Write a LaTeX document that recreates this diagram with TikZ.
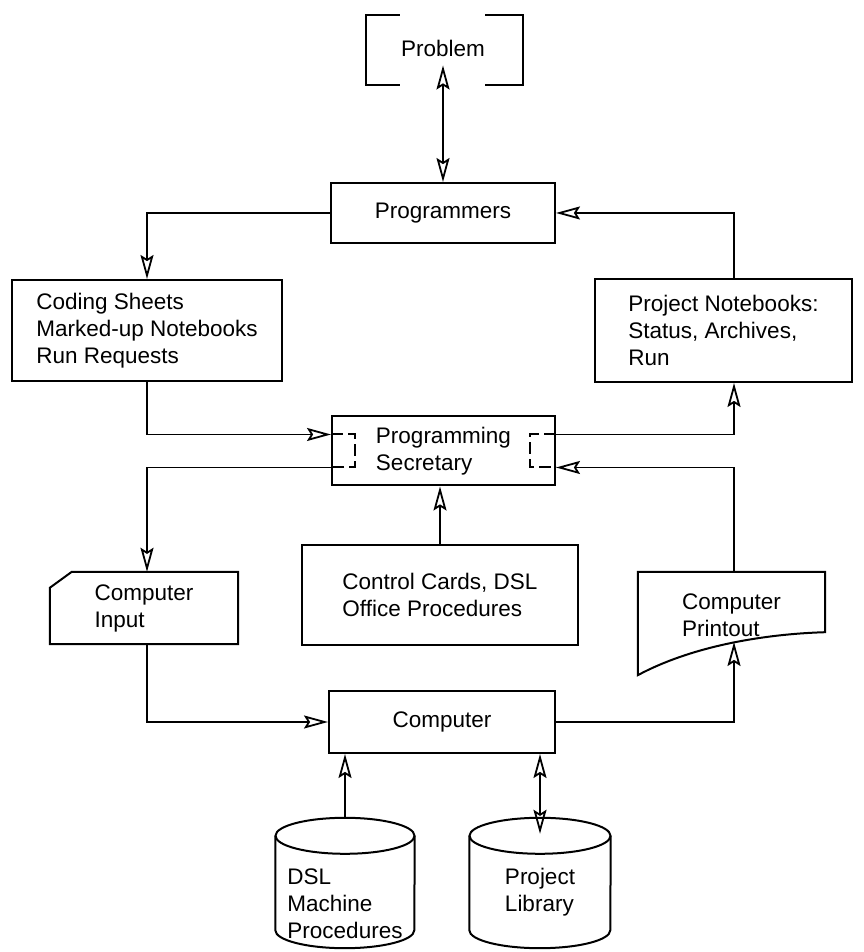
\documentclass[tikz,border=0pt]{standalone}
\usepackage{fontspec}
\setmainfont{Liberation Sans}
\usetikzlibrary{arrows.meta}
\tikzset{
  box/.style={
    draw, line width=2pt, inner sep=0pt, align=left
  },
  plain/.style={inner sep=0pt, align=left},
  outline/.style={line width=2pt},
  arr/.style={
    -{Stealth[open, length=24pt, width=13pt, inset=4pt]},
    line width=1.8pt
  },
  biarr/.style={
    {Stealth[open, length=24pt, width=13pt, inset=4pt]}-{Stealth[open, length=24pt, width=13pt, inset=4pt]},
    line width=1.8pt
  },
  bracket/.style={line width=2pt, dash pattern=on 12pt off 5pt}
}

\begin{document}
\begin{tikzpicture}[
      x=1pt, y=1pt,
      every node/.style={font=\fontsize{22.5pt}{27pt}\selectfont}
  ]
    \fill[white] (0,0) rectangle (863,952);
    \useasboundingbox (0,0) rectangle (863,952);

    %% ── Top: Problem and Programmers ────────────────────────────────
    \node[plain] (prob) at (443,904) {Problem};
    \node[plain, minimum width=157pt, minimum height=70pt] (probframe) at (444.5,902) {};
    \draw[outline] ([xshift=34pt]probframe.north west) -- (probframe.north west)
                   -- (probframe.south west) -- ++(34pt,0);
    \draw[outline] ([xshift=-38pt]probframe.north east) -- (probframe.north east)
                   -- (probframe.south east) -- ++(-38pt,0);

    \node[box, minimum width=224pt, minimum height=60pt] (prog) at (443,739) {Programmers};

    %% ── Row 2: paperwork in and out ─────────────────────────────────
    \node[box, minimum width=270pt, minimum height=101pt] (coding) at (147,621.5)
      {Coding Sheets\\Marked-up Notebooks\\Run Requests};
    \node[box, minimum width=257pt, minimum height=103pt] (notes) at (723.5,621.5)
      {Project Notebooks:\\Status, Archives,\\Run};

    %% ── Row 3: Programming Secretary ────────────────────────────────
    \node[box, minimum width=223pt, minimum height=69pt] (sec) at (443.5,501)
      {Programming\\Secretary};
    \draw[bracket] ([yshift=16.5pt]sec.west) -- ++(24pt,0) -- ++(0,-33pt) -- ++(-24pt,0);
    \draw[bracket] ([yshift=16.5pt]sec.east) -- ++(-26pt,0) -- ++(0,-33pt) -- ++(26pt,0);

    %% ── Row 4: input, control cards, printout ───────────────────────
    \node[box, minimum width=276pt, minimum height=100pt] (cards) at (440,357)
      {Control Cards, DSL\\Office Procedures};

    \node[plain, minimum width=188pt, minimum height=72pt] (input) at (144,344)
      {Computer\\Input};
    \draw[outline] ([yshift=-16pt]input.north west) -- ([xshift=22pt]input.north west)
                   -- (input.north east) -- (input.south east) -- (input.south west) -- cycle;

    \node[plain, minimum width=187pt, minimum height=86pt] (print) at (731.5,337)
      {Computer\\Printout};
    \draw[outline] (print.north west) -- (print.north east) -- ([yshift=26pt]print.south east)
                   .. controls ([xshift=-65pt,yshift=24pt]print.south east)
                   and ([xshift=52pt,yshift=11pt]print.south west)
                   .. ([yshift=-17pt]print.south west) -- cycle;

    %% ── Row 5: Computer ─────────────────────────────────────────────
    \node[box, minimum width=226pt, minimum height=62pt] (comp) at (442,230) {Computer};

    %% ── Bottom: the two disk files ──────────────────────────────────
    \node[plain, minimum width=139pt, minimum height=94pt] (dsl) at (345,69) {};
    \draw[outline] (dsl.north west) -- (dsl.south west)
                   arc[start angle=180, end angle=360, x radius=69.5pt, y radius=18pt]
                   -- (dsl.north east);
    \draw[outline] (dsl.north) ellipse[x radius=69.5pt, y radius=18pt];
    \node[plain] (dsltext) at (345,48.5) {DSL\\Machine\\Procedures};

    \node[plain, minimum width=141pt, minimum height=94pt] (lib) at (540,69) {};
    \draw[outline] (lib.north west) -- (lib.south west)
                   arc[start angle=180, end angle=360, x radius=70.5pt, y radius=18pt]
                   -- (lib.north east);
    \draw[outline] (lib.north) ellipse[x radius=70.5pt, y radius=18pt];
    \node[plain] (libtext) at (540,59.5) {Project\\Library};

    %% ── Connectors ──────────────────────────────────────────────────
    \coordinate (colL) at (147,0);
    \coordinate (colR) at (734,0);
    \coordinate (printbot) at (734,310);

    \draw[biarr] ([yshift=-9pt]prob.south) -- (prog.north);
    \draw[arr] (prog.west) -| (coding.north);
    \draw[arr] (notes.north -| colR) |- (prog.east);

    \draw[arr] (coding.south) |- ([yshift=16.5pt]sec.west);
    \draw[arr] ([yshift=16.5pt]sec.east) -| (notes.south -| colR);
    \draw[arr] ([yshift=-16.5pt]sec.west) -| (input.north -| colL);
    \draw[arr] (print.north -| colR) |- ([yshift=-16.5pt]sec.east);
    \draw[arr] (cards.north) -- (cards.north |- sec.south);

    \draw[arr] (input.south -| colL) |- (comp.west);
    \draw[arr] (comp.east) -| (printbot);

    % disk files to the computer
    \draw[arr] ([yshift=18pt]dsl.north) -- (comp.south -| dsl.north);
    \draw[biarr] (comp.south -| lib.north) -- ([yshift=2pt]lib.north);
\end{tikzpicture}
\end{document}
